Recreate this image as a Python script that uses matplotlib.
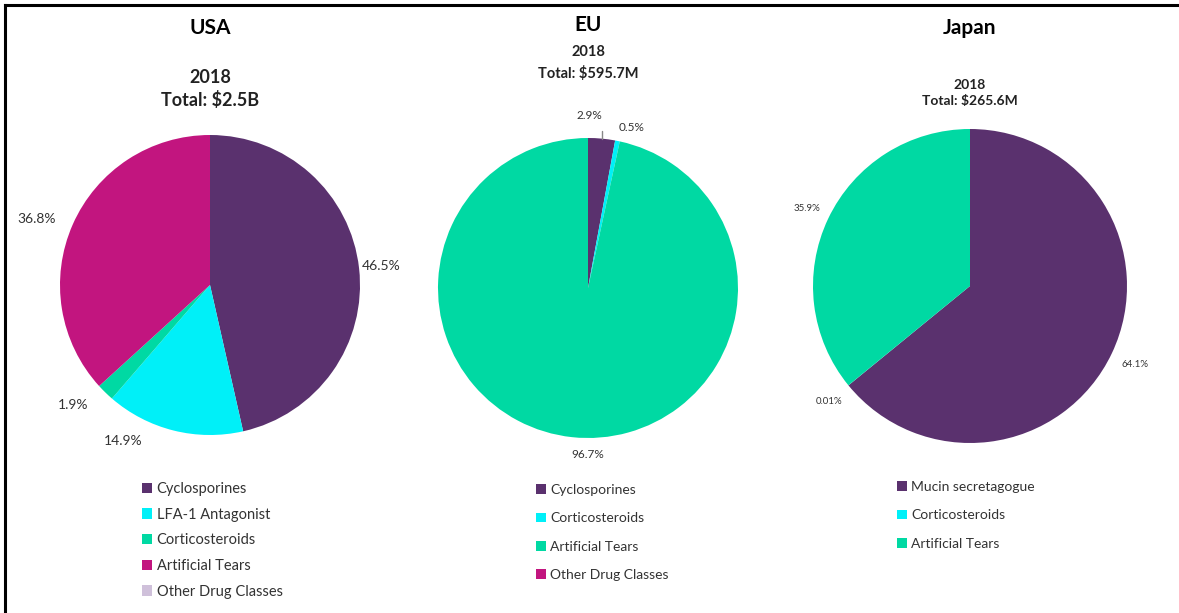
import numpy as np
import matplotlib.pyplot as plt
from matplotlib.patches import Patch
from matplotlib.lines import Line2D

plt.rcParams['font.family'] = ['Lato', 'DejaVu Sans']

# data
usa_labels = ['Cyclosporines', 'LFA-1 Antagonist', 'Corticosteroids', 'Artificial Tears', 'Other Drug Classes']
usa_values = [46.5, 14.9, 1.9, 36.8, 0.0]
usa_text = ['46.5%', '14.9%', '1.9%', '36.8%', '']

eu_labels = ['Cyclosporines', 'Corticosteroids', 'Artificial Tears', 'Other Drug Classes']
eu_values = [2.9, 0.5, 96.7, 0.0]
eu_text = ['2.9%', '0.5%', '96.7%', '']

jp_labels = ['Mucin secretagogue', 'Corticosteroids', 'Artificial Tears']
jp_values = [64.1, 0.01, 35.9]
jp_text = ['64.1%', '0.01%', '35.9%']

PURPLE = '#5a316e'
CYAN = '#00f0f8'
GREEN = '#00d9a3'
MAGENTA = '#c2157f'
LAVENDER = '#cfc0da'

usa_colors = [PURPLE, CYAN, GREEN, MAGENTA, LAVENDER]
eu_colors = [PURPLE, CYAN, GREEN, MAGENTA]
jp_colors = [PURPLE, CYAN, GREEN]

W, H = 1179, 613
fig = plt.figure(figsize=(W / 100, H / 100), dpi=100)


def px_axes(cx, cy, r):
    return fig.add_axes([(cx - r) / W, (H - cy - r) / H, 2 * r / W, 2 * r / H])


def draw_pie(cx, cy, r, values, colors, texts, dists, shifts, fsize):
    ax = px_axes(cx, cy, r)
    wedges, _ = ax.pie(values, colors=colors, startangle=90, counterclock=False,
                       wedgeprops=dict(linewidth=0))
    ax.set_xlim(-1, 1)
    ax.set_ylim(-1, 1)
    ax.set_aspect('equal')
    for w, t, d, s in zip(wedges, texts, dists, shifts):
        if not t:
            continue
        ang = np.deg2rad((w.theta1 + w.theta2) / 2 + s)
        ax.text(d * np.cos(ang), d * np.sin(ang), t, ha='center', va='center',
                fontsize=fsize, color='#333333', clip_on=False)
    return ax, wedges


def draw_legend(x, y, labels, colors, fsize, spacing):
    handles = [Patch(facecolor=c, edgecolor='none') for c in colors]
    fig.legend(handles, labels, loc='upper left', bbox_to_anchor=(x / W, 1 - y / H),
               frameon=False, fontsize=fsize, handlelength=0.7, handleheight=0.7,
               handletextpad=0.3, labelspacing=spacing, borderpad=0, borderaxespad=0,
               labelcolor='#333333')


# USA
draw_pie(210, 285, 150, usa_values, usa_colors, usa_text,
         [1.15, 1.19, 1.21, 1.24, 1.2], [0, -15, -4.5, 3, 0], 10)
fig.text(210 / W, 1 - 28 / H, 'USA', ha='center', va='center', fontsize=15, fontweight='bold')
fig.text(210 / W, 1 - 89 / H, '2018\nTotal: $2.5B', ha='center', va='center',
         fontsize=13, fontweight='bold', color='#222222', linespacing=1.35)
draw_legend(142, 482, usa_labels, usa_colors, 10.5, 0.8)

# EU
ax_eu, w_eu = draw_pie(588, 288, 150, eu_values, eu_colors, ['', '0.5%', '96.7%', ''],
                       [1.15, 1.11, 1.11, 1.1], [0, -4, 6, 0], 8.5)
ang = np.deg2rad((w_eu[0].theta1 + w_eu[0].theta2) / 2)
ax_eu.annotate(eu_text[0], xy=(np.cos(ang), np.sin(ang)),
               xytext=(np.cos(ang) - 0.08, 1.15), ha='center', va='center', fontsize=8.5,
               color='#333333', arrowprops=dict(arrowstyle='-', color='#888888', lw=1,
                                                shrinkA=5, shrinkB=0,
                                                connectionstyle='angle,angleA=0,angleB=90'))
fig.text(588 / W, 1 - 25 / H, 'EU', ha='center', va='center', fontsize=15, fontweight='bold')
fig.text(588 / W, 1 - 63 / H, '2018\nTotal: $595.7M', ha='center', va='center',
         fontsize=10.5, fontweight='bold', color='#222222', linespacing=1.5)
draw_legend(536, 484, eu_labels, eu_colors, 10, 1.18)

# Japan
draw_pie(970, 286, 157, jp_values, jp_colors, jp_text, [1.16, 1.16, 1.15], [0, 0, 0], 7)
fig.text(970 / W, 1 - 28 / H, 'Japan', ha='center', va='center', fontsize=15, fontweight='bold')
fig.text(970 / W, 1 - 93 / H, '2018\nTotal: $265.6M', ha='center', va='center',
         fontsize=10, fontweight='bold', color='#222222', linespacing=1.35)
draw_legend(897, 481, jp_labels, jp_colors, 10, 1.18)

# frame lines (top and left only)
fig.add_artist(Line2D([5 / W, 1], [1 - 5 / H, 1 - 5 / H], color='black', lw=2.2))
fig.add_artist(Line2D([5 / W, 5 / W], [0, 1 - 5 / H], color='black', lw=2.2))

fig.savefig('out.png', dpi=100)
